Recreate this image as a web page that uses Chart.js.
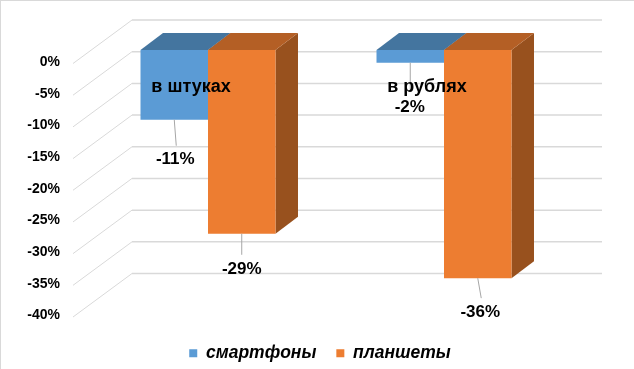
<!DOCTYPE html>
<html><head><meta charset="utf-8">
<style>html,body{margin:0;padding:0;background:#fff}#w{width:634px;height:369px;position:relative}canvas{display:block}</style>
<script src="https://cdn.jsdelivr.net/npm/chart.js@4/dist/chart.umd.min.js"></script>
</head><body><div id="w"><canvas id="c" width="634" height="369"></canvas></div>
<script>
const categories = ['в штуках', 'в рублях'];
const seriesNames = ['смартфоны', 'планшеты'];
const smartphones = [-11, -2];
const tablets = [-29, -36];
const yTicks = [0, -5, -10, -15, -20, -25, -30, -35, -40];

const FONT = '"Liberation Sans", Arial, sans-serif';
const depthX = 22.5, depthY = 17;
const fills = [
  {front:'#5B9BD5', top:'#44759F', side:'#3E6A92'},
  {front:'#ED7D31', top:'#B45F25', side:'#98511E'}
];
// label placement relative to the bar's bottom-centre: [lineEndDx, lineEndDy, textDx, textDy]
const labelOffsets = [
  [[2, 26, 1, 40], [0, 28, -0.5, 45]],
  [[0, 21, 0, 36], [3.5, 20, 2.5, 34]]
];

const scene3d = {
  id: 'scene3d',
  afterLayout(chart) {
    const lg = chart.legend;
    lg.top += 21; lg.bottom += 21;
    lg.left -= 1.5; lg.right -= 1.5;
  },
  beforeDraw(chart) {
    const {ctx, width, height} = chart;
    ctx.save();
    ctx.fillStyle = '#D9D9D9';
    ctx.fillRect(0, 0, width, 1);
    ctx.fillRect(0, 0, 1, height);
    ctx.restore();
  },
  beforeDatasetsDraw(chart) {
    const {ctx, scales:{y}, chartArea:a} = chart;
    ctx.save();
    ctx.strokeStyle = '#D9D9D9';
    yTicks.forEach(v => {
      const p = y.getPixelForValue(v);
      ctx.lineWidth = 1;
      ctx.beginPath(); ctx.moveTo(a.left - 17, p + 13.5); ctx.lineTo(a.left + 42, p - 30); ctx.stroke();
      ctx.lineWidth = 1.5;
      ctx.beginPath(); ctx.moveTo(a.left + 42, p - 30); ctx.lineTo(a.right + 40, p - 30); ctx.stroke();
    });
    chart.data.datasets.forEach((ds, i) => {
      chart.getDatasetMeta(i).data.forEach(b => {
        const l = b.x - b.width/2, r = b.x + b.width/2, t = b.base, bt = b.y;
        ctx.fillStyle = fills[i].side;
        ctx.beginPath(); ctx.moveTo(r, t); ctx.lineTo(r + depthX, t - depthY); ctx.lineTo(r + depthX, bt - depthY); ctx.lineTo(r, bt); ctx.closePath(); ctx.fill();
        ctx.fillStyle = fills[i].top;
        ctx.beginPath(); ctx.moveTo(l, t); ctx.lineTo(l + depthX, t - depthY); ctx.lineTo(r + depthX, t - depthY); ctx.lineTo(r, t); ctx.closePath(); ctx.fill();
      });
    });
    ctx.restore();
  },
  afterDatasetsDraw(chart) {
    const {ctx} = chart;
    ctx.save();
    chart.data.datasets.forEach((ds, i) => {
      chart.getDatasetMeta(i).data.forEach((b, j) => {
        const o = labelOffsets[i][j];
        ctx.strokeStyle = '#A6A6A6'; ctx.lineWidth = 1;
        ctx.beginPath(); ctx.moveTo(b.x, b.y); ctx.lineTo(b.x + o[0], b.y + o[1]); ctx.stroke();
        ctx.fillStyle = '#000';
        ctx.font = 'bold 17px ' + FONT;
        ctx.textAlign = 'center'; ctx.textBaseline = 'middle';
        ctx.fillText(ds.data[j] + '%', b.x + o[2], b.y + o[3]);
      });
    });
    ctx.restore();
  }
};

new Chart(document.getElementById('c'), {
  type: 'bar',
  data: {
    labels: categories,
    datasets: [
      {label: seriesNames[0], data: smartphones, backgroundColor: fills[0].front},
      {label: seriesNames[1], data: tablets, backgroundColor: fills[1].front}
    ]
  },
  options: {
    responsive: false, animation: false,
    layout: {padding: {top: 50, left: 9, right: 0, bottom: 18}},
    datasets: {bar: {categoryPercentage: 0.572, barPercentage: 1}},
    plugins: {
      tooltip: {enabled: false},
      legend: {
        position: 'bottom',
        labels: {boxWidth: 8, boxHeight: 8, padding: 20, color: '#000',
          font: {family: FONT, size: 17.5, style: 'italic', weight: 'bold'}}
      }
    },
    scales: {
      x: {
        position: {y: 0},
        grid: {display: false}, border: {display: false},
        ticks: {z: 1, color: '#000', padding: 18, labelOffset: -17, autoSkip: false, maxRotation: 0,
          font: {family: FONT, size: 18, weight: 'bold'}}
      },
      y: {
        min: -40, max: 0,
        afterBuildTicks(s) { s.ticks = yTicks.map(v => ({value: v})); },
        afterFit(s) { s.width = 81; },
        grid: {display: false}, border: {display: false},
        ticks: {color: '#000', padding: 22, labelOffset: 12,
          callback: v => v + '%',
          font: {family: FONT, size: 14, weight: 'bold'}}
      },
      yEnd: {
        position: 'right',
        min: -40, max: 0,
        afterFit(s) { s.width = 72; },
        grid: {display: false}, border: {display: false},
        ticks: {display: false}
      }
    }
  },
  plugins: [scene3d]
});
</script></body></html>
